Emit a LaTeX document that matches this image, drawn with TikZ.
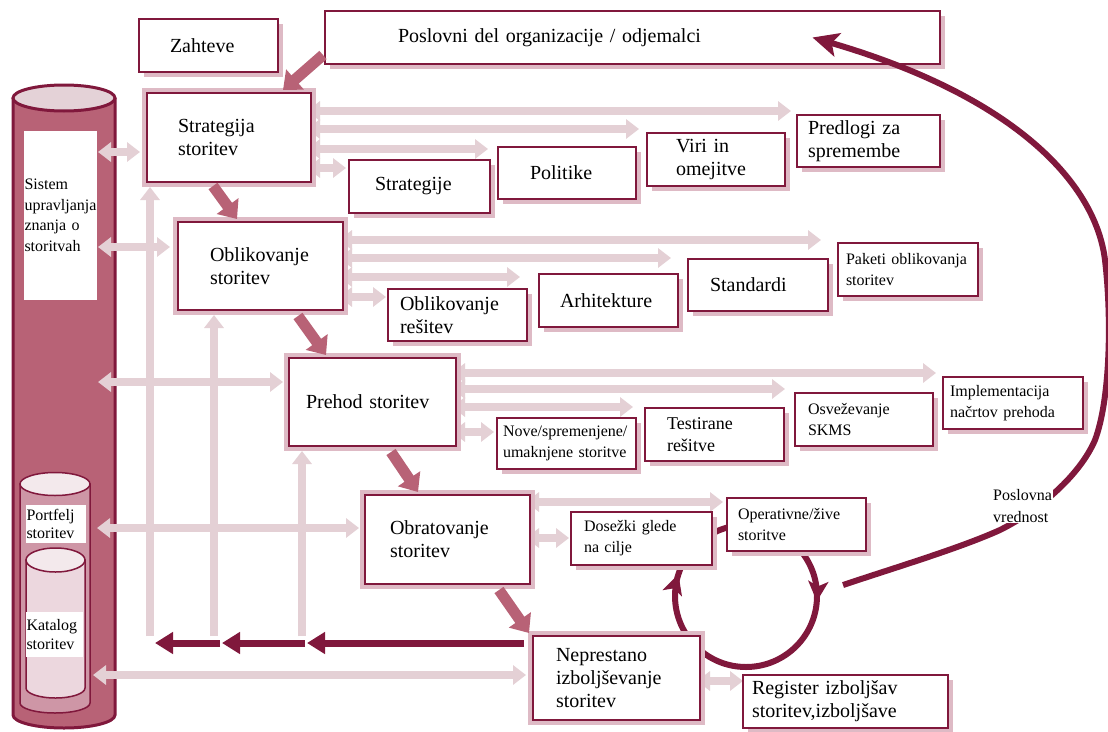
\documentclass[tikz,border=0pt]{standalone}
\usepackage{fontspec}
\setmainfont{Liberation Serif}
\usetikzlibrary{arrows.meta,shadows,decorations.markings}
\pgfdeclarelayer{bg}
\pgfsetlayers{bg,main}
\definecolor{crim}{RGB}{128,24,60}
\definecolor{rose}{RGB}{184,98,118}
\definecolor{ltpink}{RGB}{228,208,213}
\definecolor{shpink}{RGB}{222,186,197}
\definecolor{captop}{RGB}{228,210,215}
\definecolor{portbody}{RGB}{206,150,166}
\definecolor{katbody}{RGB}{236,215,222}
\definecolor{palecap}{RGB}{243,233,236}
\newcommand\txtL{\fontsize{20}{23}\selectfont}
\newcommand\txtM{\fontsize{18}{22}\selectfont}
\newcommand\txtS{\fontsize{16}{21}\selectfont}

\begin{document}
\begin{tikzpicture}[x=1pt,y=-1pt,
  boxbase/.style={draw=crim, line width=2pt, fill=white, anchor=north west,
    align=left, inner ysep=0pt, outer sep=0pt, font=\txtL},
  sbox/.style={boxbase, drop shadow={shadow xshift=5pt, shadow yshift=-5pt,
    opacity=1, fill=shpink}},
  mbox/.style={boxbase, preaction={draw=shpink, line width=10pt}},
  lbl/.style={fill=white, anchor=north west, align=left, inner ysep=0pt,
    inner xsep=0.5pt, outer sep=0pt},
  lta/.style={draw=ltpink, line width=8pt,
    arrows={Triangle[length=13pt,width=19pt]-Triangle[length=13pt,width=19pt]}},
  ltup/.style={draw=ltpink, line width=8pt, arrows={-Triangle[length=13pt,width=19pt]}},
  rosearr/.style={draw=rose, line width=11pt, arrows={-Triangle[length=16pt,width=26pt]}},
  darr/.style={draw=crim, line width=7pt, arrows={-Triangle[length=18pt,width=21pt]}},
]
\useasboundingbox (0,0) rectangle (1108,731);

% ---------- process boxes ----------
\node[sbox, text width=77pt, inner xsep=31pt, minimum height=53pt] (zah) at (139,19) {Zahteve};
\node[sbox, text width=469pt, inner xsep=73pt, minimum height=53pt] (posl) at (325,11) {Poslovni del organizacije / odjemalci};
\node[mbox, text width=102pt, inner xsep=31pt, minimum height=89pt] (strat) at (147,93) {Strategija\\storitev};
\node[sbox, text width=89pt, inner xsep=26pt, minimum height=53pt] (strg) at (349,160) {Strategije};
\node[sbox, text width=74pt, inner xsep=32pt, minimum height=52pt] (pol) at (498,147) {Politike};
\node[sbox, text width=80pt, inner xsep=29pt, minimum height=53pt] (viri) at (647,133) {Viri in\\omejitve};
\node[sbox, text width=121pt, inner xsep=11pt, minimum height=52pt] (pred) at (797,115) {Predlogi za\\spremembe};
\node[mbox, text width=101pt, inner xsep=32pt, minimum height=88pt] (obl) at (178,222) {Oblikovanje\\storitev};
\node[sbox, text width=115pt, inner xsep=12pt, minimum height=52pt] (oblr) at (388,289) {Oblikovanje\\rešitev};
\node[sbox, text width=97pt, inner xsep=21pt, minimum height=53pt] (arh) at (539,274) {Arhitekture};
\node[sbox, text width=96pt, inner xsep=22pt, minimum height=52pt] (std) at (688,259) {Standardi};
\node[sbox, font=\txtS, text width=124pt, inner xsep=8pt, minimum height=53pt] (pak) at (838,243) {Paketi oblikovanja\\storitev};
\node[mbox, text width=133pt, inner xsep=17pt, minimum height=88pt] (preh) at (289,358) {Prehod storitev};
\node[sbox, font=\txtS, text width=127pt, inner xsep=6pt, minimum height=51pt] (nove) at (497,418) {Nove/spremenjene/\\umaknjene storitve};
\node[sbox, font=\txtM, text width=95pt, inner xsep=22pt, minimum height=53pt] (test) at (645,408) {Testirane\\rešitve};
\node[sbox, font=\txtS, text width=112pt, inner xsep=13pt, minimum height=53pt] (osv) at (795,393) {Osveževanje\\SKMS};
\node[sbox, font=\txtS, text width=126pt, inner xsep=7pt, minimum height=52pt] (impl) at (943,377) {Implementacija\\načrtov prehoda};
\node[mbox, text width=115pt, inner xsep=25pt, minimum height=89pt] (obr) at (365,495) {Obratovanje\\storitev};
\node[sbox, font=\txtS, text width=115pt, inner xsep=13pt, minimum height=53pt] (dos) at (571,512) {Dosežki glede\\na cilje};
\node[sbox, font=\txtS, text width=117pt, inner xsep=11pt, minimum height=53pt] (oper) at (727,498) {Operativne/žive\\storitve};
\node[mbox, text width=121pt, inner xsep=23pt, minimum height=84pt] (nep) at (533,636) {Neprestano\\izboljševanje\\storitev};
\node[sbox, text width=187pt, inner xsep=9pt, minimum height=53pt] (reg) at (743,675) {Register izboljšav\\storitev,izboljšave};

% ---------- labels inside the knowledge store ----------
\node[lbl, text width=72pt, minimum height=169pt, font=\fontsize{16}{20.5}\selectfont] (sis) at (24,131) {Sistem\\upravljanja\\znanja o\\storitvah};
\node[lbl, text width=59pt, minimum height=38pt, font=\fontsize{16}{18.5}\selectfont] (port) at (26,505) {Portfelj\\storitev};
\node[lbl, text width=56pt, minimum height=45pt, font=\fontsize{16}{18.5}\selectfont] (kat) at (26,612) {Katalog\\storitev};

\coordinate (kms) at (98,400);
\coordinate (v1) at (150,636);
\coordinate (v2) at (214,636);
\coordinate (v3) at (302,636);
\coordinate (loopc) at (746,596);

\begin{pgfonlayer}{bg}
  \fill[white] (0,0) rectangle (1108,731);
  % knowledge store cylinder
  \fill[rose] (13,98) -- (13,715) arc[start angle=180,end angle=0,x radius=51,y radius=13] -- (115,98) -- cycle;
  \draw[crim, line width=3pt] (13,98) -- (13,715) arc[start angle=180,end angle=0,x radius=51,y radius=13] -- (115,98);
  \filldraw[fill=captop, draw=crim, line width=3pt] (64,98) ellipse[x radius=51, y radius=13];
  % service portfolio cylinder
  \filldraw[fill=portbody, draw=crim, line width=1.5pt] (20,484) -- (20,703) arc[start angle=180,end angle=0,x radius=35,y radius=10] -- (90,484) -- cycle;
  \filldraw[fill=palecap, draw=crim, line width=1.5pt] (55,484) ellipse[x radius=35, y radius=11.5];
  % service catalogue cylinder
  \filldraw[fill=katbody, draw=crim, line width=1.5pt] (26,560) -- (26,688) arc[start angle=180,end angle=0,x radius=29.5,y radius=10] -- (85,560) -- cycle;
  \filldraw[fill=palecap, draw=crim, line width=1.5pt] (55.5,560) ellipse[x radius=29.5, y radius=12];

  % store <-> stages
  \draw[lta, shorten >=7pt] (kms |- 0,152) -- (strat.west |- 0,152);
  \draw[lta, shorten >=8pt] (kms |- 0,247) -- (obl.west |- 0,247);
  \draw[lta, shorten >=6pt] (kms |- 0,382) -- (preh.west |- 0,382);
  \draw[lta, shorten >=6pt, shorten <=-1pt] (kms |- 0,528) -- (obr.west |- 0,528);
  \draw[lta, shorten >=7pt, shorten <=-5pt] (kms |- 0,675) -- (nep.west |- 0,675);

  % feedback into the stages
  \draw[ltup, shorten >=5pt] (v1) -- (v1 |- strat.south);
  \draw[ltup, shorten >=5pt] (v2) -- (v2 |- obl.south);
  \draw[ltup, shorten >=5pt] (v3) -- (v3 |- preh.south);

  % strategy outputs
  \draw[lta, shorten <=-4pt, shorten >=6pt] (strat.east |- 0,111) -- (pred.west |- 0,111);
  \draw[lta, shorten <=-4pt, shorten >=8pt] (strat.east |- 0,129) -- (viri.west |- 0,129);
  \draw[lta, shorten <=-4pt, shorten >=10pt] (strat.east |- 0,149) -- (pol.west |- 0,149);
  \draw[lta, shorten <=-4pt, shorten >=3pt] (strat.east |- 0,168) -- (strg.west |- 0,168);
  % design outputs
  \draw[lta, shorten <=-4pt, shorten >=17pt] (obl.east |- 0,240) -- (pak.west |- 0,240);
  \draw[lta, shorten <=-4pt, shorten >=17pt] (obl.east |- 0,258) -- (std.west |- 0,258);
  \draw[lta, shorten <=-4pt, shorten >=19pt] (obl.east |- 0,277) -- (arh.west |- 0,277);
  \draw[lta, shorten <=-4pt, shorten >=2pt] (obl.east |- 0,297) -- (oblr.west |- 0,297);
  % transition outputs
  \draw[lta, shorten <=-4pt, shorten >=7pt] (preh.east |- 0,373) -- (impl.west |- 0,373);
  \draw[lta, shorten <=-4pt, shorten >=10pt] (preh.east |- 0,389) -- (osv.west |- 0,389);
  \draw[lta, shorten <=-4pt, shorten >=12pt] (preh.east |- 0,407) -- (test.west |- 0,407);
  \draw[lta, shorten <=-4pt, shorten >=3pt] (preh.east |- 0,432) -- (nove.west |- 0,432);
  % operation outputs
  \draw[lta, shorten <=-4pt, shorten >=4pt] (obr.east |- 0,502) -- (oper.west |- 0,502);
  \draw[lta, shorten <=-4pt, shorten >=2pt] (obr.east |- 0,538) -- (dos.west |- 0,538);
  % improvement register
  \draw[lta, shorten <=-3pt] (nep.east |- 0,681) -- (reg.west |- 0,681);

  % improvement loop
  \draw[crim, line width=6pt, postaction={decorate},
    decoration={markings,
      mark=at position 0.012 with {\arrow{Stealth[length=20pt,width=20pt,inset=5pt]}},
      mark=at position 0.55 with {\arrow{Stealth[length=20pt,width=20pt,inset=5pt]}}}]
    (loopc) circle[radius=71];
\end{pgfonlayer}

% ---------- lifecycle flow ----------
\draw[rosearr] ([shift={(-2,-9)}]posl.south west) -- ([shift={(-28,-3)}]strat.north east);
\draw[rosearr] ([shift={(66,4)}]strat.south west) -- ([shift={(59,-3)}]obl.north west);
\draw[rosearr] ([shift={(120,6)}]obl.south west) -- ([shift={(37,-3)}]preh.north west);
\draw[rosearr] ([shift={(102,6)}]preh.south west) -- ([shift={(53,-3)}]obr.north west);
\draw[rosearr] ([shift={(134,6)}]obr.south west) -- ([shift={(-4,-3)}]nep.north west);

% ---------- improvement feedback to earlier stages ----------
\coordinate (h3) at (307,643);
\coordinate (h2) at (222,643);
\coordinate (h1) at (155,643);
\draw[darr, shorten <=9pt] (nep.west |- h3) -- (h3);
\draw[darr, shorten <=2pt] (h3) -- (h2);
\draw[darr, shorten <=2pt] (h2) -- (h1);

% ---------- business value ----------
\coordinate (pvs) at (843,585);
\draw[crim, line width=6pt, arrows={-Stealth[length=26pt,width=24pt,inset=6pt]}]
  (pvs) .. controls (900,566) and (960,548) .. (1000,530)
        .. controls (1040,510) and (1080,475) .. (1095,440)
        .. controls (1110,400) and (1112,320) .. (1105,260)
        .. controls (1095,180) and (1010,95) .. ([xshift=180pt]posl.center);
\node[fill=white, inner sep=1pt, anchor=north west, align=left,
  font=\fontsize{16}{22}\selectfont] (pv) at (992,488) {Poslovna\\vrednost};
\end{tikzpicture}
\end{document}
